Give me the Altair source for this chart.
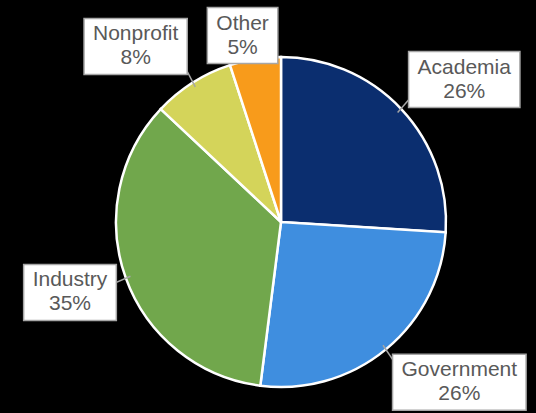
import altair as alt
import pandas as pd

# ---- data ----
categories = ["Academia", "Government", "Industry", "Nonprofit", "Other"]
shares = [26, 26, 35, 8, 5]
colors = ["#0b2e6f", "#3f8edf", "#71a74c", "#d4d45a", "#f89b1b"]

# ---- layout / style constants ----
W, H = 536, 413
CX, CY = 281, 222       # pie centre (pixels)
R = 165                 # pie radius
RAX, RAY = 175, 180     # label anchor radius (horizontal / vertical)
BOX_H = 56
FONT = "Liberation Sans"
FS = 21
TEXT_COL = "#595959"
BOX_STROKE = "#a6a6a6"

# Arial advance widths (1/1000 em) to size label boxes from their text
adv = {"A": 667, "c": 500, "a": 556, "d": 556, "e": 556, "m": 833, "i": 222,
       "G": 778, "o": 556, "v": 500, "r": 333, "n": 556, "I": 278, "u": 556,
       "s": 500, "t": 278, "y": 500, "N": 722, "p": 556, "f": 278, "O": 778,
       "h": 556, "%": 889}


def text_w(t):
    return sum(adv.get(ch, 556) for ch in t) * FS / 1000.0


pct_labels = [f"{v}%" for v in shares]
df = pd.DataFrame({
    "category": categories,
    "share": shares,
    "order": list(range(len(categories))),
    "pct": pct_labels,
    "w": [max(text_w(a), text_w(b)) + 18 for a, b in zip(categories, pct_labels)],
})

xs = alt.Scale(domain=[0, W], nice=False, zero=False)
ys = alt.Scale(domain=[0, H], nice=False, zero=False, reverse=True)

pie = alt.Chart(df).mark_arc(radius=R, stroke="white", strokeWidth=2.5).encode(
    theta=alt.Theta("share:Q", stack=True),
    color=alt.Color("category:N", scale=alt.Scale(domain=categories, range=colors), legend=None),
    order=alt.Order("order:Q"),
    x=alt.XDatum(CX, type="quantitative", scale=xs, axis=None),
    y=alt.YDatum(CY, type="quantitative", scale=ys, axis=None),
)

geo = alt.Chart(df).transform_joinaggregate(
    total="sum(share)"
).transform_window(
    cum="sum(share)", sort=[alt.SortField("order")], frame=[None, 0]
).transform_calculate(
    mid="2*PI*(datum.cum - datum.share/2)/datum.total",
).transform_calculate(
    s="sin(datum.mid)", c="cos(datum.mid)",
).transform_calculate(
    ax=f"{CX} + {RAX}*datum.s",
    ay=f"{CY} - {RAY}*datum.c",
    lx1=f"{CX} + {R - 5}*datum.s",
    ly1=f"{CY} - {R - 5}*datum.c",
    lx2=f"{CX} + {RAX + 8}*datum.s",
    ly2=f"{CY} - {RAY + 8}*datum.c",
).transform_calculate(
    bcx="datum.ax + clamp(2*datum.s, -1, 1)*datum.w/2",
    bcy=f"datum.ay - datum.c*{BOX_H}/2*min(1, 2*abs(datum.s))",
).transform_calculate(
    bx1="datum.bcx - datum.w/2",
    bx2="datum.bcx + datum.w/2",
    by1=f"datum.bcy - {BOX_H}/2",
    by2=f"datum.bcy + {BOX_H}/2",
    ty1="datum.bcy - 12",
    ty2="datum.bcy + 12",
)

leaders = geo.mark_rule(color=BOX_STROKE, strokeWidth=1.5).encode(
    x=alt.X("lx1:Q", scale=xs, axis=None), x2="lx2:Q",
    y=alt.Y("ly1:Q", scale=ys, axis=None), y2="ly2:Q",
)

boxes = geo.mark_rect(fill="white", stroke=BOX_STROKE, strokeWidth=1.5).encode(
    x=alt.X("bx1:Q", scale=xs, axis=None), x2="bx2:Q",
    y=alt.Y("by1:Q", scale=ys, axis=None), y2="by2:Q",
)

names = geo.mark_text(font=FONT, fontSize=FS, color=TEXT_COL, baseline="middle", align="center").encode(
    x=alt.X("bcx:Q", scale=xs, axis=None),
    y=alt.Y("ty1:Q", scale=ys, axis=None),
    text="category:N",
)

pcts = geo.mark_text(font=FONT, fontSize=FS, color=TEXT_COL, baseline="middle", align="center").encode(
    x=alt.X("bcx:Q", scale=xs, axis=None),
    y=alt.Y("ty2:Q", scale=ys, axis=None),
    text="pct:N",
)

chart = alt.layer(pie, leaders, boxes, names, pcts).properties(
    width=W, height=H, padding=0, autosize="none", background="black"
).configure_view(stroke=None)

chart.save("out.html", embed_options={"renderer": "svg", "actions": False})
